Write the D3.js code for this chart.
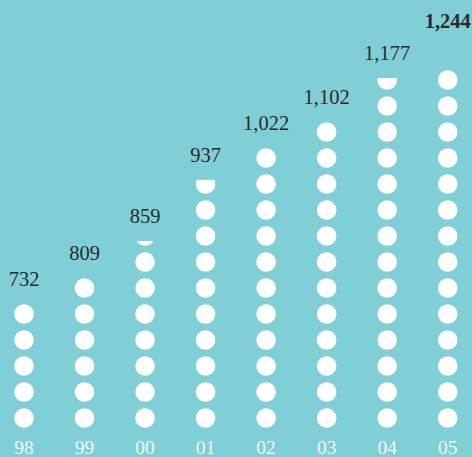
<!DOCTYPE html>
<html>
<head>
<meta charset="utf-8">
<script src="https://cdn.jsdelivr.net/npm/d3@7"></script>
<style>
  html, body { margin: 0; padding: 0; background: #80ced6; }
  svg { display: block; }
</style>
</head>
<body>
<div id="chart"></div>
<script>
// years along the bottom and the value printed over each column
const years = ["98", "99", "00", "01", "02", "03", "04", "05"];
const values = [732, 809, 859, 937, 1022, 1102, 1177, 1244];
// number of dots per column as drawn (fraction = partly shown top dot)
const dotCounts = [5, 6, 7.25, 9.72, 11, 12, 13.6, 14];

const width = 472, height = 457;
const r = 9.8;

const svg = d3.select("#chart").append("svg")
  .attr("width", width)
  .attr("height", height);

svg.append("rect")
  .attr("width", width)
  .attr("height", height)
  .attr("fill", "#80ced6");

const x = d3.scalePoint()
  .domain(years)
  .range([24, 447.7]);

// dot index -> centre y
const y = d3.scaleLinear()
  .domain([0, 1])
  .range([418, 392]);

const defs = svg.append("defs");
const dotsG = svg.append("g");

years.forEach((yr, i) => {
  const n = dotCounts[i];
  const full = Math.floor(n);
  const frac = n - full;
  const cx = x(yr);
  for (let k = 0; k < full; k++) {
    dotsG.append("circle")
      .attr("cx", cx)
      .attr("cy", y(k))
      .attr("r", r)
      .attr("fill", "#fff");
  }
  let top = y(full - 1) - r;
  if (frac > 0) {
    const cy = y(full);
    const cut = cy + r - 2 * r * frac;
    const id = "clip" + i;
    defs.append("clipPath").attr("id", id)
      .append("rect")
      .attr("x", cx - r - 1)
      .attr("y", cut)
      .attr("width", 2 * r + 2)
      .attr("height", 2 * r * frac + 1);
    dotsG.append("circle")
      .attr("cx", cx)
      .attr("cy", cy)
      .attr("r", r)
      .attr("fill", "#fff")
      .attr("clip-path", `url(#${id})`);
    top = cut;
  }
  const last = i === years.length - 1;
  svg.append("text")
    .attr("x", cx)
    .attr("y", top - (last ? 42 : 18))
    .attr("text-anchor", "middle")
    .attr("font-family", "'Liberation Serif', 'DejaVu Serif', serif")
    .attr("font-size", 20.5)
    .attr("font-weight", last ? "bold" : "normal")
    .attr("fill", "#2b2b2b")
    .text(d3.format(",")(values[i]));
});

svg.append("g")
  .selectAll("text")
  .data(years)
  .join("text")
  .attr("x", d => x(d))
  .attr("y", 454)
  .attr("text-anchor", "middle")
  .attr("font-family", "'Liberation Serif', 'DejaVu Serif', serif")
  .attr("font-size", 19.5)
  .attr("fill", "#eef9fa")
  .text(d => d);
</script>
</body>
</html>
